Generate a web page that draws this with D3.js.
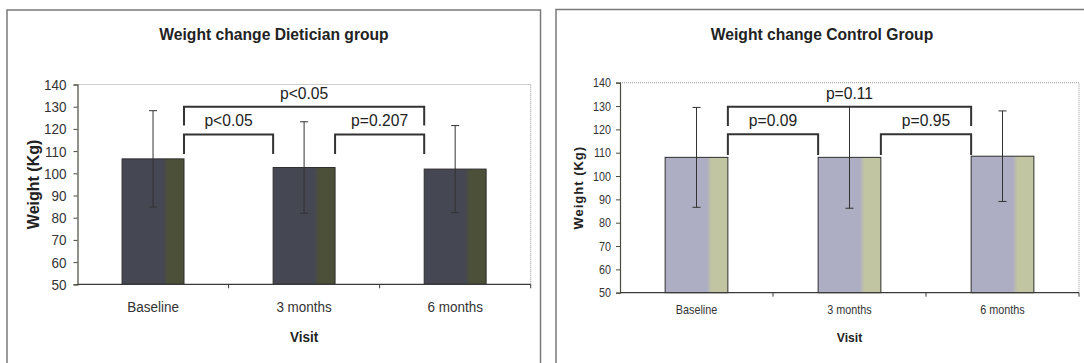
<!DOCTYPE html>
<html>
<head>
<meta charset="utf-8">
<script src="https://cdn.jsdelivr.net/npm/d3@7"></script>
<style>
  html, body { margin: 0; padding: 0; background: #fff; }
  svg { display: block; font-family: Arial, "Liberation Sans", sans-serif; }
</style>
</head>
<body>
<svg id="chart" width="1084" height="363"></svg>
<script>
// Visits on the x axis
const visits = ["Baseline", "3 months", "6 months"];
const yTicks = [50, 60, 70, 80, 90, 100, 110, 120, 130, 140];

// Dietician group: mean weight (kg) and standard deviation per visit
const dieticianMean = [106.5, 102.6, 101.9];
const dieticianSD = [21.7, 20.6, 19.6];

// Control group: mean weight (kg) and standard deviation per visit
const controlMean = [108.0, 108.0, 108.5];
const controlSD = [21.4, 21.8, 19.4];

// Significance brackets: which visits are compared, the p label,
// bracket bar level and the level its ends drop to (kg)
const dieticianPairs = [[0, 2], [0, 1], [1, 2]];
const dieticianP = ["p<0.05", "p<0.05", "p=0.207"];
const dieticianBracketTop = [130.0, 117.5, 117.5];
const dieticianBracketEnd = [121.5, 108.7, 108.7];

const controlPairs = [[0, 2], [0, 1], [1, 2]];
const controlP = ["p=0.11", "p=0.09", "p=0.95"];
const controlBracketTop = [129.7, 117.9, 117.9];
const controlBracketEnd = [121.4, 109.0, 109.0];

const svg = d3.select("#chart");
const defs = svg.append("defs");

function barGradient(id, main, side) {
  const g = defs.append("linearGradient").attr("id", id)
    .attr("x1", "0%").attr("x2", "100%").attr("y1", "0%").attr("y2", "0%");
  g.append("stop").attr("offset", "0%").attr("stop-color", main);
  g.append("stop").attr("offset", "66%").attr("stop-color", main);
  g.append("stop").attr("offset", "74%").attr("stop-color", side);
  g.append("stop").attr("offset", "100%").attr("stop-color", side);
}
barGradient("darkBar", "#454753", "#4d5039");
barGradient("lightBar", "#adadc3", "#c2c5a2");

// narrow a text horizontally while keeping its anchor point in place
function narrow(sel, sx) {
  sel.each(function () {
    const t = d3.select(this);
    const x = +t.attr("x") || 0;
    t.attr("x", x / sx).attr("transform", `scale(${sx},1)`);
  });
}

function drawPanel(p) {
  const g = svg.append("g");

  // outer chart frame
  g.append("rect")
    .attr("x", p.frame[0]).attr("y", p.frame[1])
    .attr("width", p.frame[2]).attr("height", p.frame[3])
    .attr("fill", "#fff").attr("stroke", "#7a7a7a").attr("stroke-width", 1.5);

  const x = d3.scaleBand().domain(visits)
    .range([p.left, p.right]).paddingInner(0.59).paddingOuter(0.295);
  const y = d3.scaleLinear().domain([50, 140]).range([p.bottom, p.top]);

  // plot-area border (top and right), dotted
  g.append("path")
    .attr("d", `M${p.left},${y(140)}H${p.right}V${y(50)}`)
    .attr("fill", "none").attr("stroke", "#9a9a9a").attr("stroke-width", 1)
    .attr("stroke-dasharray", "1,1");

  // bars
  g.selectAll("rect.bar").data(visits).join("rect")
    .attr("class", "bar")
    .attr("x", d => x(d))
    .attr("y", (d, i) => y(p.mean[i]))
    .attr("width", x.bandwidth())
    .attr("height", (d, i) => y(50) - y(p.mean[i]))
    .attr("fill", `url(#${p.fill})`)
    .attr("stroke", "#2e2e2e").attr("stroke-width", 1);

  // error bars (± SD)
  const cx = d => x(d) + x.bandwidth() / 2;
  const eb = g.selectAll("g.err").data(visits).join("g").attr("class", "err")
    .attr("stroke", "#333").attr("stroke-width", 1);
  eb.append("line")
    .attr("x1", cx).attr("x2", cx)
    .attr("y1", (d, i) => y(p.mean[i] + p.sd[i]))
    .attr("y2", (d, i) => y(p.mean[i] - p.sd[i]));
  [1, -1].forEach(s => {
    eb.append("line")
      .attr("x1", d => cx(d) - 4).attr("x2", d => cx(d) + 4)
      .attr("y1", (d, i) => y(p.mean[i] + s * p.sd[i]))
      .attr("y2", (d, i) => y(p.mean[i] + s * p.sd[i]));
  });

  // y axis
  const ya = g.append("g").attr("transform", `translate(${p.left},0)`)
    .call(d3.axisLeft(y).tickValues(yTicks).tickSize(4).tickPadding(p.yPad));
  ya.select(".domain").attr("stroke", "#4a4a3e").attr("stroke-width", 1.2);
  ya.selectAll(".tick line").attr("stroke", "#4a4a3e");
  ya.selectAll(".tick text").attr("font-size", p.tickSize).attr("fill", "#333")
    .attr("font-family", "Arial, 'Liberation Sans', sans-serif")
    .call(narrow, p.tickSx);

  // x axis: category labels and boundary ticks
  const xa = g.append("g").attr("transform", `translate(0,${p.bottom})`)
    .call(d3.axisBottom(x).tickSize(0).tickPadding(p.xPad));
  xa.select(".domain").remove();
  xa.selectAll(".tick text").attr("font-size", p.catSize).attr("fill", "#333")
    .attr("font-family", "Arial, 'Liberation Sans', sans-serif")
    .call(narrow, p.catSx);
  g.append("line")
    .attr("x1", p.left).attr("x2", p.right)
    .attr("y1", y(50)).attr("y2", y(50))
    .attr("stroke", "#3a3a3a").attr("stroke-width", 1.2);
  const step = x.step();
  g.selectAll("line.xtick").data(visits).join("line").attr("class", "xtick")
    .attr("x1", d => x(d) - (step - x.bandwidth()) / 2 + step)
    .attr("x2", d => x(d) - (step - x.bandwidth()) / 2 + step)
    .attr("y1", y(50)).attr("y2", y(50) + 4)
    .attr("stroke", "#3a3a3a");

  // significance brackets
  p.pairs.forEach((pair, k) => {
    const x0 = x(visits[pair[0]]) + x.bandwidth();
    const x1 = x(visits[pair[1]]);
    const yt = y(p.bTop[k]), ye = y(p.bEnd[k]);
    g.append("path")
      .attr("d", `M${x0},${ye}V${yt}H${x1}V${ye}`)
      .attr("fill", "none").attr("stroke", "#333").attr("stroke-width", 2);
    g.append("text")
      .attr("x", (x0 + x1) / 2).attr("y", yt - 8)
      .attr("text-anchor", "middle").attr("font-size", 16.5).attr("fill", "#222")
      .text(p.labels[k])
      .call(narrow, 0.95);
  });

  // titles
  g.append("text")
    .attr("x", p.titleX).attr("y", 40.5)
    .attr("text-anchor", "middle").attr("font-size", 16.5).attr("font-weight", "bold")
    .attr("fill", "#222").text(p.title)
    .call(narrow, 0.95);
  g.append("text")
    .attr("x", (p.left + p.right) / 2).attr("y", 337).attr("dy", "0.35em")
    .attr("text-anchor", "middle").attr("font-size", p.axisTitleSize).attr("font-weight", "bold")
    .attr("fill", "#222").text("Visit")
    .call(narrow, 0.9);
  g.append("text")
    .attr("transform", `translate(${p.yTitleX},${(p.top + p.bottom) / 2}) rotate(-90)`)
    .attr("dy", "0.35em")
    .attr("text-anchor", "middle").attr("font-size", p.yTitleSize).attr("font-weight", "bold")
    .attr("letter-spacing", p.yTitleSpacing)
    .attr("fill", "#222").text("Weight (Kg)");
}

drawPanel({
  frame: [7, 10, 533.5, 360],
  left: 77.5, right: 530.7, top: 84.5, bottom: 284.3,
  mean: dieticianMean, sd: dieticianSD, fill: "darkBar",
  pairs: dieticianPairs, labels: dieticianP,
  bTop: dieticianBracketTop, bEnd: dieticianBracketEnd,
  title: "Weight change Dietician group", titleX: 274,
  tickSize: 15.5, tickSx: 0.87, yPad: 7, catSize: 15.5, catSx: 0.87, xPad: 17,
  axisTitleSize: 15, yTitleSize: 16, yTitleSpacing: 0, yTitleX: 33
});

drawPanel({
  frame: [556, 9.5, 540, 360],
  left: 620, right: 1079, top: 82.7, bottom: 292.7,
  mean: controlMean, sd: controlSD, fill: "lightBar",
  pairs: controlPairs, labels: controlP,
  bTop: controlBracketTop, bEnd: controlBracketEnd,
  title: "Weight change Control Group", titleX: 822,
  tickSize: 12.5, tickSx: 0.86, yPad: 5, catSize: 12, catSx: 0.9, xPad: 13,
  axisTitleSize: 13.5, yTitleSize: 13, yTitleSpacing: 1, yTitleX: 578
});
</script>
</body>
</html>
